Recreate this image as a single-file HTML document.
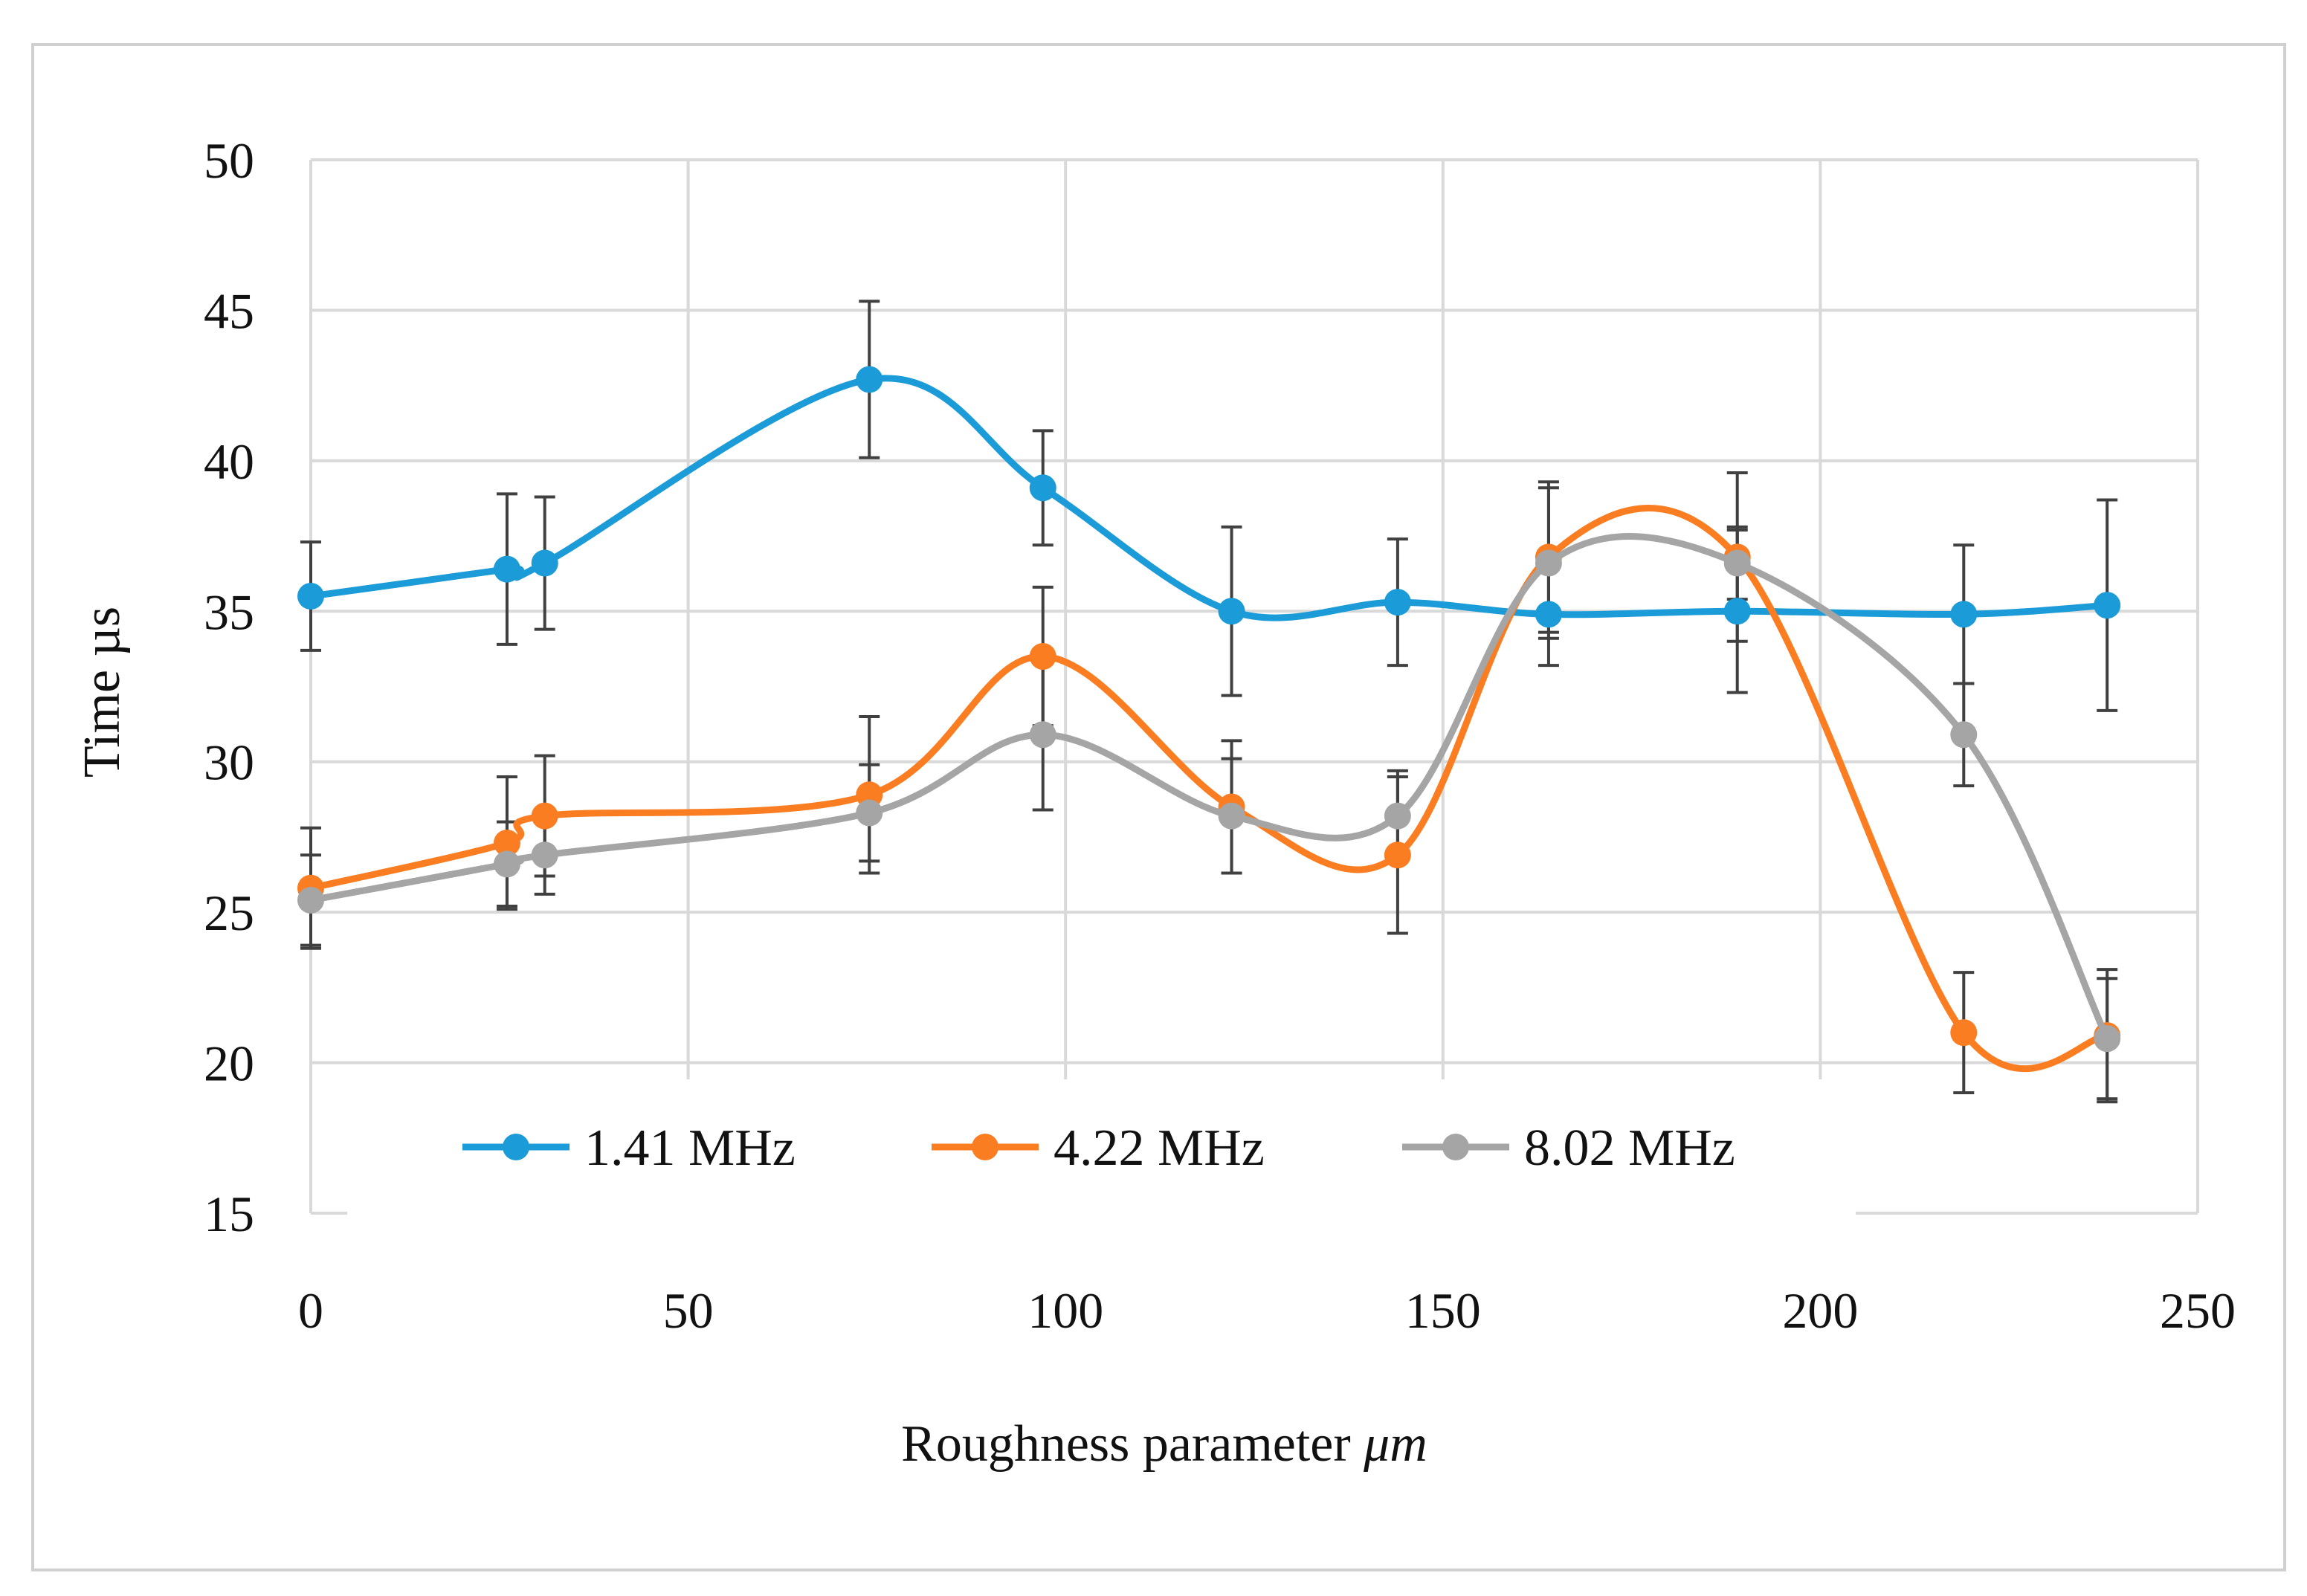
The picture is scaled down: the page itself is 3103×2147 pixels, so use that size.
<!DOCTYPE html>
<html><head><meta charset="utf-8"><style>
html,body{margin:0;padding:0;background:#fff;}
svg{display:block;}
text{font-family:"Liberation Serif",serif;fill:#111;}
</style></head><body>
<svg id="chart" width="3103" height="2147" viewBox="0 0 3103 2147" xmlns="http://www.w3.org/2000/svg">
<rect x="44" y="60" width="3029" height="2052" fill="#fff" stroke="#d0d0d0" stroke-width="4"/>
<g id="grid"></g>
<g id="series"></g>
<rect x="467" y="1452" width="2029" height="186" fill="#fff"/>
<g id="legend"></g>
<g id="axes"></g>
<text x="1566" y="1965" font-size="70" text-anchor="middle">Roughness parameter <tspan font-style="italic">μm</tspan></text>
<text transform="translate(160,931) rotate(-90)" font-size="70" text-anchor="middle">Time µs</text>
</svg>
<script>
const xVals = [0, 26, 31, 74, 97, 122, 144, 164, 189, 219, 238];
const blueVals = [35.5, 36.4, 36.6, 42.7, 39.1, 35.0, 35.3, 34.9, 35.0, 34.9, 35.2];
const blueErr = [1.8, 2.5, 2.2, 2.6, 1.9, 2.8, 2.1, 1.7, 2.7, 2.3, 3.5];
const orangeVals = [25.8, 27.3, 28.2, 28.9, 33.5, 28.5, 26.9, 36.8, 36.8, 21.0, 20.9];
const orangeErr = [2.0, 2.2, 2.0, 2.6, 2.3, 2.2, 2.6, 2.5, 2.8, 2.0, 2.2];
const grayVals = [25.4, 26.6, 26.9, 28.3, 30.9, 28.2, 28.2, 36.6, 36.6, 30.9, 20.8];
const grayErr = [1.5, 1.4, 1.3, 1.6, 2.5, 1.9, 1.5, 2.5, 1.2, 1.7, 2.0];
const seriesNames = ["1.41 MHz", "4.22 MHz", "8.02 MHz"];
const xTicks = [0, 50, 100, 150, 200, 250];
const yTicks = [15, 20, 25, 30, 35, 40, 45, 50];

const NS = "http://www.w3.org/2000/svg";
const L = 418, R = 2956, T = 215, B = 1632;
const xMin = 0, xMax = 250, yMin = 15, yMax = 50;
function sx(v){ return L + (v - xMin) / (xMax - xMin) * (R - L); }
function sy(v){ return B - (v - yMin) / (yMax - yMin) * (B - T); }
function mk(tag, attrs, parent){ const e = document.createElementNS(NS, tag); for (const k in attrs) e.setAttribute(k, attrs[k]); parent.appendChild(e); return e; }

const grid = document.getElementById('grid');
const axes = document.getElementById('axes');
yTicks.forEach(t => {
  const g = mk('line', {x1: L, x2: R, y1: sy(t), y2: sy(t), stroke: '#d9d9d9', 'stroke-width': 4}, grid);
  
  
  const lb = mk('text', {x: 342, y: sy(t) + 24, 'font-size': 68, 'text-anchor': 'end'}, axes);
  lb.textContent = t;
  
  
});
xTicks.forEach(t => {
  const g = mk('line', {x1: sx(t), x2: sx(t), y1: T, y2: B, stroke: '#d9d9d9', 'stroke-width': 4}, grid);
  
  
  const lb = mk('text', {x: sx(t), y: 1786, 'font-size': 68, 'text-anchor': 'middle'}, axes);
  lb.textContent = t;
  
  
});

function smoothPath(xs, ys){
  const p = xs.map((x, i) => [sx(x), sy(ys[i])]);
  let d = `M${p[0][0]},${p[0][1]}`;
  for (let i = 0; i < p.length - 1; i++){
    const p0 = p[Math.max(0, i - 1)], p1 = p[i], p2 = p[i + 1], p3 = p[Math.min(p.length - 1, i + 2)];
    const c1 = [p1[0] + (p2[0] - p0[0]) / 6, p1[1] + (p2[1] - p0[1]) / 6];
    const c2 = [p2[0] - (p3[0] - p1[0]) / 6, p2[1] - (p3[1] - p1[1]) / 6];
    d += ` C${c1[0]},${c1[1]} ${c2[0]},${c2[1]} ${p2[0]},${p2[1]}`;
  }
  return d;
}

const seriesG = document.getElementById('series');
const colors = ['#1b9bd7', '#fa7d22', '#a5a5a5'];
const allVals = [blueVals, orangeVals, grayVals];
const allErr = [blueErr, orangeErr, grayErr];
const keys = ['blue', 'orange', 'gray'];
allVals.forEach((vals, s) => {
  vals.forEach((v, i) => {
    const x = sx(xVals[i]), e = allErr[s][i];
    const eb = mk('path', {d: `M${x},${sy(v + e)}V${sy(v - e)}M${x - 14},${sy(v + e)}H${x + 14}M${x - 14},${sy(v - e)}H${x + 14}`, stroke: '#404040', 'stroke-width': 4, fill: 'none'}, seriesG);
    
    
  });
});
allVals.forEach((vals, s) => {
  const ln = mk('path', {d: smoothPath(xVals, vals), stroke: colors[s], 'stroke-width': 9, fill: 'none'}, seriesG);
  
  
  vals.forEach((v, i) => {
    const c = mk('circle', {cx: sx(xVals[i]), cy: sy(v), r: 18, fill: colors[s]}, seriesG);
    
    
  });
});

const legend = document.getElementById('legend');
const legX = [622, 1253, 1886];
seriesNames.forEach((n, s) => {
  const x0 = legX[s], y = 1543;
  const ln = mk('line', {x1: x0, x2: x0 + 144, y1: y, y2: y, stroke: colors[s], 'stroke-width': 9}, legend);
  
  
  const c = mk('circle', {cx: x0 + 72, cy: y, r: 18, fill: colors[s]}, legend);
  
  
  const t = mk('text', {x: x0 + 164, y: y + 24, 'font-size': 70}, legend);
  t.textContent = n;
  
  
});
</script>
</body></html>
